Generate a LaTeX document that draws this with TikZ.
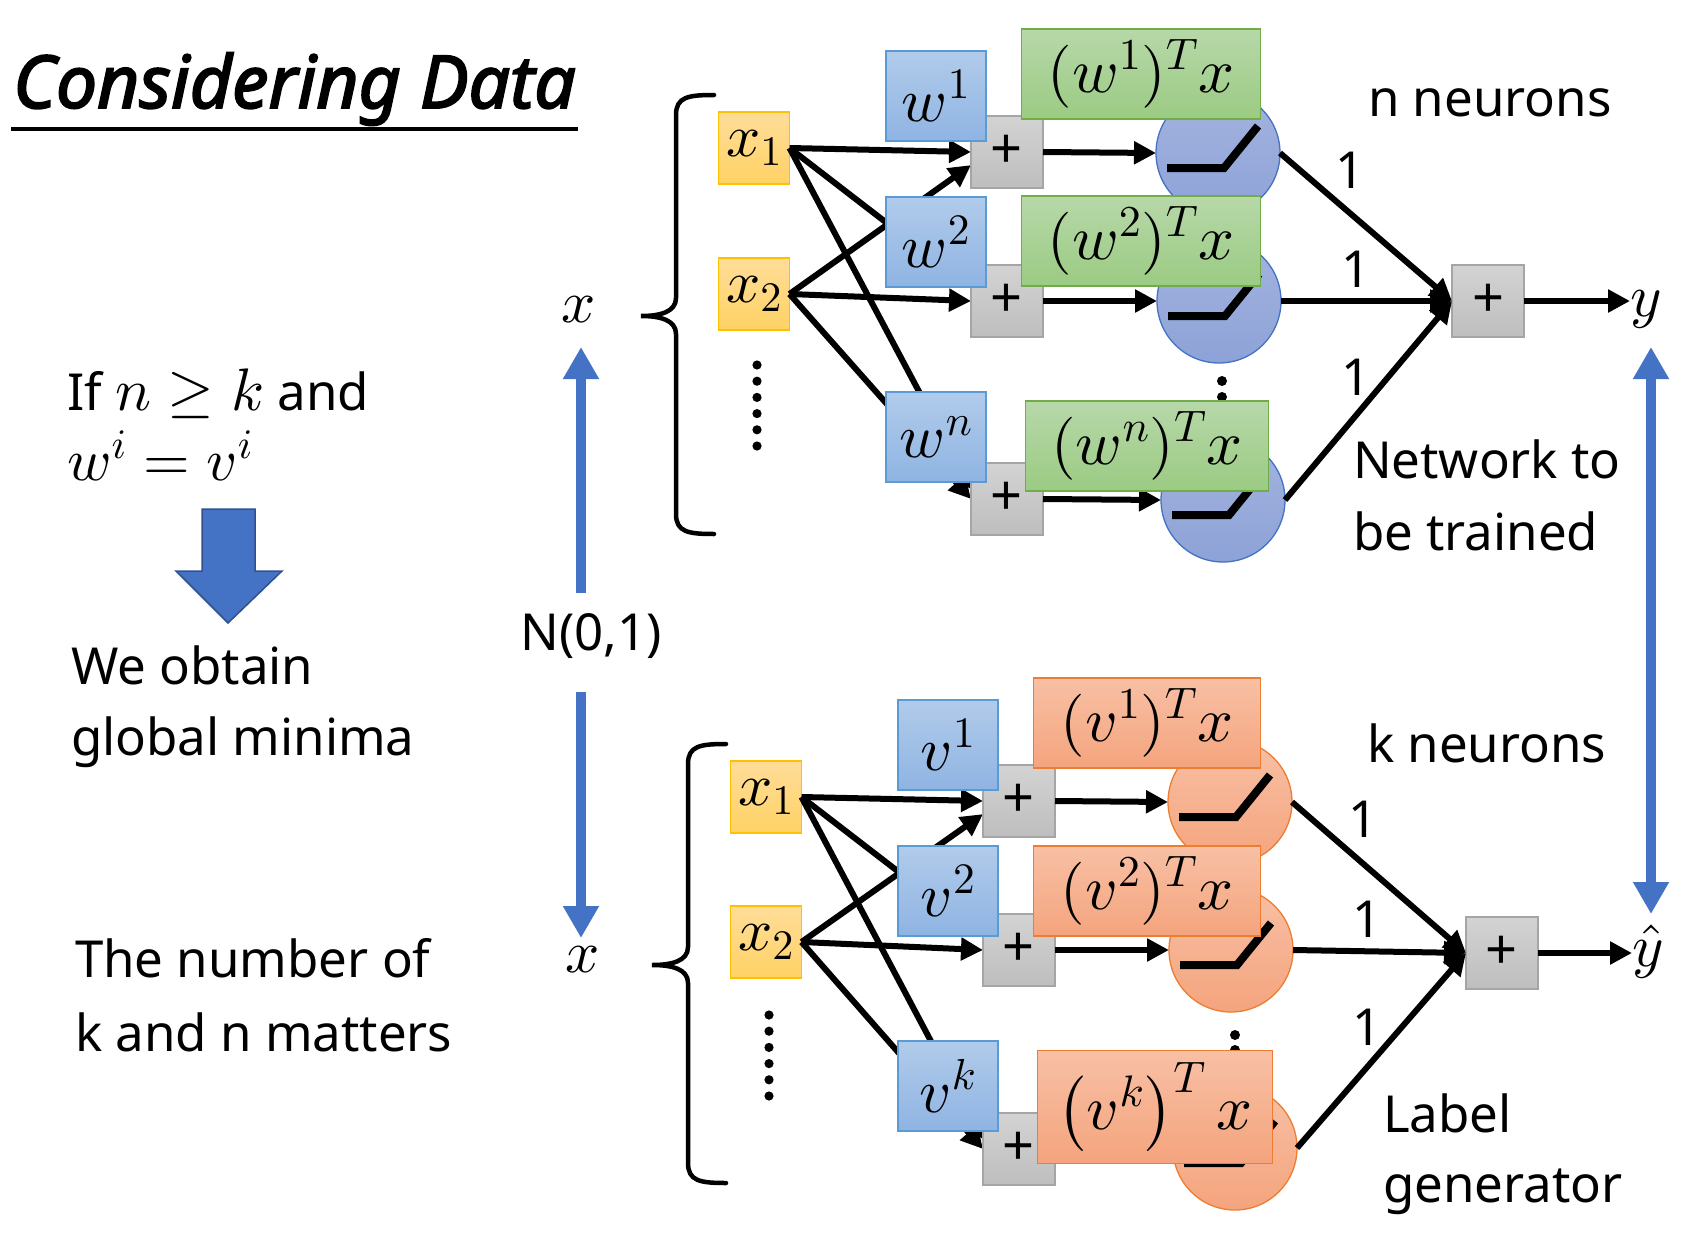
\documentclass[tikz,border=0pt]{standalone}
\usepackage[no-math]{fontspec}
\setsansfont{Noto Sans}
\newfontfamily\dgTitleFace{Noto Sans}[FakeBold=2.6]
\usetikzlibrary{arrows.meta,calc}
% scalable Computer Modern for large math
\DeclareFontShape{OML}{cmm}{m}{it}{<->cmmi10}{}
\DeclareFontShape{OMS}{cmsy}{m}{n}{<->cmsy10}{}
\DeclareFontShape{OT1}{cmr}{m}{n}{<->cmr10}{}
\DeclareFontShape{OMX}{cmex}{m}{n}{<->cmex10}{}

\definecolor{xTop}{HTML}{FFDD99}
\definecolor{xBot}{HTML}{FFD264}
\definecolor{xEdge}{HTML}{FFC000}
\definecolor{wTop}{HTML}{B1CBEA}
\definecolor{wBot}{HTML}{8FB4E3}
\definecolor{wEdge}{HTML}{5B9BD5}
\definecolor{pTop}{HTML}{D3D3D3}
\definecolor{pBot}{HTML}{BEBEBE}
\definecolor{pEdge}{HTML}{A5A5A5}
\definecolor{gTop}{HTML}{B7D8A9}
\definecolor{gBot}{HTML}{9BCB83}
\definecolor{gEdge}{HTML}{70AD47}
\definecolor{nTop}{HTML}{A4B4DF}
\definecolor{nBot}{HTML}{8DA2D7}
\definecolor{nEdge}{HTML}{4472C4}
\definecolor{oTop}{HTML}{F8C0A5}
\definecolor{oBot}{HTML}{F4A47D}
\definecolor{oEdge}{HTML}{ED7D31}
\definecolor{accent}{HTML}{4472C4}
\definecolor{accentDark}{HTML}{2F528F}

\newcommand\dgBody{\sffamily\fontsize{51}{60}\selectfont}
\newcommand\dgTitle{\dgTitleFace\itshape\fontsize{73}{76}\selectfont}
\newcommand\dgMath{\fontsize{63}{64}\selectfont}
\newcommand\dgMathW{\fontsize{62}{64}\selectfont}
\newcommand\dgMathS{\fontsize{60}{62}\selectfont}
\newcommand\dgPlus{\sffamily\fontsize{56}{56}\selectfont}

\tikzset{
  tile/.style={rectangle, inner sep=0pt, outer sep=0pt, line width=1.3pt},
  xin/.style={tile, draw=xEdge, top color=xTop, bottom color=xBot,
    minimum width=71pt, minimum height=72pt, font=\dgMathS},
  wt/.style={tile, draw=wEdge, top color=wTop, bottom color=wBot,
    minimum width=100pt, minimum height=90pt, font=\dgMathW},
  adder/.style={tile, draw=pEdge, top color=pTop, bottom color=pBot,
    minimum width=72pt, minimum height=72pt, font=\dgPlus},
  gsum/.style={tile, draw=gEdge, top color=gTop, bottom color=gBot,
    minimum height=90pt, font=\dgMath},
  osum/.style={tile, draw=oEdge, top color=oTop, bottom color=oBot,
    minimum height=90pt, font=\dgMath},
  neuronb/.style={circle, inner sep=0pt, outer sep=0pt, minimum size=124pt,
    draw=nEdge, line width=1.3pt, top color=nTop, bottom color=nBot},
  neurono/.style={circle, inner sep=0pt, outer sep=0pt, minimum size=124pt,
    draw=oEdge, line width=1.3pt, top color=oTop, bottom color=oBot},
  feed/.style={line width=6pt, -{Triangle[length=22pt,width=22pt]}},
  relu/.style={line width=8pt, line join=miter},
  lbl/.style={inner sep=0pt, outer sep=0pt, font=\dgBody},
  mlbl/.style={inner sep=0pt, outer sep=0pt, font=\dgMathS},
  bluearrow/.style={draw=accent, line width=10pt, -{Triangle[length=32pt,width=34pt]}},
  brace/.style={line width=4.5pt, line cap=round},
}

\begin{document}
\begin{tikzpicture}[x=1pt,y=-1pt]
\fill[white] (0,0) rectangle (1690,1234);
\useasboundingbox (0,0) rectangle (1690,1234);

% ---------- title and left-hand notes ----------
\node[anchor=base west, inner sep=0pt, font=\dgTitle] (title) at (13,108) {Considering Data};
\draw[line width=4pt] ($(title.base west)+(-2,21)$) -- ($(title.base east)+(2,21)$);

\node[lbl, anchor=base west] (cond1) at (67,410) {If {\fontsize{60}{60}\selectfont$n \geq k$} and};
\node[mlbl, anchor=base west] (cond2) at (67,480) {$w^{i} = v^{i}$};
\filldraw[fill=accent, draw=accentDark, line width=1.5pt]
  (202,509) -- (255,509) -- (255,571) -- (282,571) -- (228,623) -- (176,571) -- (202,571) -- cycle;
\node[lbl, anchor=base west] (res1) at (71,684) {We obtain};
\node[lbl, anchor=base west] (res2) at (71,755) {global minima};
\node[lbl, anchor=base west] (note1) at (75,977) {The number of};
\node[lbl, anchor=base west] (note2) at (75,1051) {k and n matters};

% ---------- shared input distribution ----------
\node[mlbl, anchor=base] (xt) at (579,322) {$x$};
\node[mlbl, anchor=base] (xb) at (583,972) {$x$};
\node[lbl] (dist) at (591,636) {N(0,1)};
\coordinate (upS) at (581,593);
\coordinate (upE) at (581,347);
\coordinate (dnS) at (581,692);
\coordinate (dnE) at (581,938);
\draw[bluearrow] (upS) -- (upE);
\draw[bluearrow] (dnS) -- (dnE);

% braces
\draw[brace] (714,95) .. controls (688,95) and (676,97) .. (676,115) -- (676,298)
  .. controls (676,312) and (660,316) .. (641,316)
  .. controls (660,316) and (676,320) .. (676,334) -- (676,514)
  .. controls (676,532) and (688,534) .. (714,534);
\draw[brace] (726,744) .. controls (700,744) and (688,746) .. (688,764) -- (688,947)
  .. controls (688,961) and (672,965) .. (652,965)
  .. controls (672,965) and (688,969) .. (688,983) -- (688,1163)
  .. controls (688,1181) and (700,1183) .. (726,1183);

% ---------- network to be trained ----------
\node[xin] (tx1) at (754,148) {$x_1$};
\node[xin] (tx2) at (754,294) {$x_2$};
\foreach \k in {0,...,5} \fill (757,365+16.2*\k) circle (4.6);

\coordinate (tp1c) at (1007,152);
\coordinate (tp2c) at (1007,301);
\coordinate (tpnc) at (1007,499);
\node[adder] (tp1) at (tp1c) {};
\node[adder] (tp2) at (tp2c) {};
\node[adder] (tpn) at (tpnc) {};

\draw[feed] (tx1.east) -- (tp1.west);
\draw[feed] (tx1.east) -- (tp2.160);
\draw[feed] (tx1.east) -- (tpn.165);
\draw[feed] (tx2.east) -- (tp1.200);
\draw[feed] (tx2.east) -- (tp2.west);
\draw[feed] (tx2.east) -- (tpn.west);

\node[adder] at (tp1c) {+};
\node[adder] at (tp2c) {+};
\node[adder] at (tpnc) {+};

\node[wt] (tw1) at (936,96) {$w^{1}$};
\node[wt] (tw2) at (936,242) {$w^{2}$};
\node[wt] (twn) at (936,437) {$w^{n}$};

\node[neuronb] (tc1) at (1218,153) {};
\node[neuronb] (tc2) at (1219,301) {};
\node[neuronb] (tcn) at (1223,500) {};
\draw[feed] (tp1.east) -- (tc1.west);
\draw[feed] (tp2.east) -- (tc2.west);
\draw[feed] (tpn.east) -- (tcn.west);
\foreach \c in {tc1,tc2,tcn}
  \draw[relu] ($(\c)+(-51,15)$) -- ++(57,0) -- ++(34,-42);
\fill (1222,381) circle (5);
\fill (1222,397) circle (5);

\node[gsum, minimum width=239pt] (tg1) at (1141,74) {$(w^{1})^{T}x$};
\node[gsum, minimum width=239pt] (tg2) at (1141,241) {$(w^{2})^{T}x$};
\node[gsum, minimum width=243pt] (tgn) at (1147,446) {$(w^{n})^{T}x$};

\node[adder] (tsum) at (1488,301) {+};
\draw[feed] (tc1.east) -- (tsum.west);
\draw[feed] (tc2.east) -- (tsum.west);
\draw[feed] (tcn.east) -- (tsum.west);
\node[lbl] at (1350,170) {1};
\node[lbl] at (1356,269) {1};
\node[lbl] at (1356,377) {1};

\node[mlbl, anchor=base west] (ylab) at (1630,316) {$y$};
\draw[feed] (tsum.east) -- (tsum.east -| ylab.west);

\node[lbl, anchor=base west] (tn) at (1368,116) {n neurons};
\node[lbl, anchor=base west] (tt1) at (1353,478) {Network to};
\node[lbl, anchor=base west] (tt2) at (1353,550) {be trained};

% ---------- label generator ----------
\node[xin] (bx1) at (766,797) {$x_1$};
\node[xin] (bx2) at (766,942) {$x_2$};
\foreach \k in {0,...,5} \fill (769,1015+16.2*\k) circle (4.6);

\coordinate (bp1c) at (1019,801);
\coordinate (bp2c) at (1019,950);
\coordinate (bpkc) at (1019,1149);
\node[adder] (bp1) at (bp1c) {};
\node[adder] (bp2) at (bp2c) {};
\node[adder] (bpk) at (bpkc) {};

\draw[feed] (bx1.east) -- (bp1.west);
\draw[feed] (bx1.east) -- (bp2.160);
\draw[feed] (bx1.east) -- (bpk.165);
\draw[feed] (bx2.east) -- (bp1.200);
\draw[feed] (bx2.east) -- (bp2.west);
\draw[feed] (bx2.east) -- (bpk.west);

\node[adder] at (bp1c) {+};
\node[adder] at (bp2c) {+};
\node[adder] at (bpkc) {+};

\node[wt] (bv1) at (948,745) {$v^{1}$};
\node[wt] (bv2) at (948,891) {$v^{2}$};
\node[wt] (bvk) at (948,1086) {$v^{k}$};

\node[neurono] (bc1) at (1230,802) {};
\node[neurono] (bc2) at (1231,950) {};
\node[neurono] (bck) at (1235,1148) {};
\draw[feed] (bp1.east) -- (bc1.west);
\draw[feed] (bp2.east) -- (bc2.west);
\draw[feed] (bpk.east) -- (bck.west);
\foreach \c in {bc1,bc2,bck}
  \draw[relu] ($(\c)+(-51,15)$) -- ++(57,0) -- ++(34,-42);
\fill (1235,1035) circle (5);
\fill (1235,1050) circle (5);

\node[osum, minimum width=227pt] (bo1) at (1147,723) {$(v^{1})^{T}x$};
\node[osum, minimum width=227pt] (bo2) at (1147,891) {$(v^{2})^{T}x$};
\node[osum, minimum width=235pt, minimum height=113pt] (bok) at (1155,1107) {$\left(v^{k}\right)^{T}x$};

\node[adder] (bsum) at (1502,953) {+};
\draw[feed] (bc1.east) -- (bsum.west);
\draw[feed] (bc2.east) -- (bsum.west);
\draw[feed] (bck.east) -- (bsum.west);
\node[lbl] at (1363,819) {1};
\node[lbl] at (1367,919) {1};
\node[lbl] at (1367,1027) {1};

\node[mlbl, anchor=base west] (yhat) at (1632,966) {$\hat{y}$};
\draw[feed] (bsum.east) -- (bsum.east -| yhat.west);

\node[lbl, anchor=base west] (kn) at (1367,762) {k neurons};
\node[lbl, anchor=base west] (lg1) at (1383,1132) {Label};
\node[lbl, anchor=base west] (lg2) at (1383,1202) {generator};

% comparison of the two outputs
\coordinate (cmpT) at (1651,347);
\coordinate (cmpB) at (1651,914);
\draw[draw=accent, line width=10pt, {Triangle[length=32pt,width=34pt]}-{Triangle[length=32pt,width=34pt]}] (cmpT) -- (cmpB);
\end{tikzpicture}
\end{document}
